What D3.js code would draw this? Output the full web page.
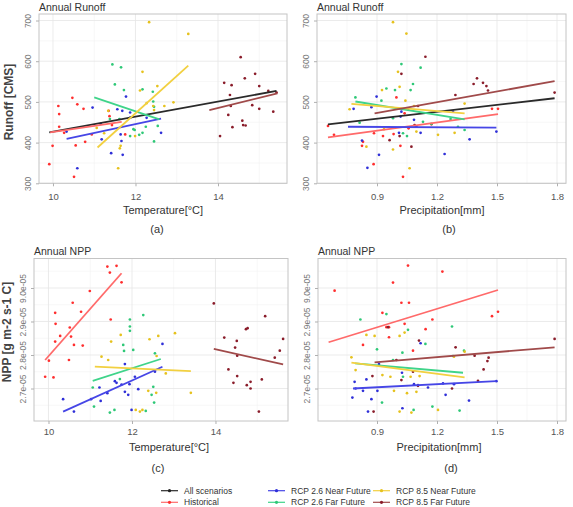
<!DOCTYPE html>
<html><head><meta charset="utf-8">
<script src="https://cdn.jsdelivr.net/npm/d3@7"></script>
<style>body{margin:0;background:#fff}svg{display:block}text{font-family:"Liberation Sans",Arial,sans-serif}</style>
</head><body><svg id="chart" width="573" height="507"></svg>
<script>
// ---------- categories ----------
const seriesNames = ["All scenarios","Historical","RCP 2.6 Near Future","RCP 2.6 Far Future","RCP 8.5 Near Future","RCP 8.5 Far Future"];
const pointColors = ["#222222","#ff2e2e","#2f2fd8","#2ec877","#e6c21e","#8a1c2a"];
const lineColors  = ["#2a2a2a","#ff6a6a","#4646e6","#3fd48a","#f2d040","#a04a4a"];

// ---------- tick labels ----------
const runoffTicks = [300,400,500,600,700];
const runoffMinor = [350,450,550,650];
const tempTicks = [10,12,14];
const tempMinor = [11,13,15];
const precipTicks = [0.9,1.2,1.5,1.8];
const precipTickLabels = ["0.9","1.2","1.5","1.8"];
const precipMinor = [0.75,1.05,1.35,1.65];
const nppTicks = [2.7,2.8,2.9,3.0];            // in 1e-5 g m-2 s-1 C
const nppTickLabels = ["2.7e-05","2.8e-05","2.9e-05","9.0e-05"];
const nppMinor = [2.65,2.75,2.85,2.95,3.05];

// ---------- panel (a): temperature [°C] vs runoff [CMS] ----------
const aHistorical = [[9.91,347],[9.99,392],[10.13,490],[10.15,470],[10.15,439],[10.27,424],[10.47,510],[10.51,316],[10.55,393],[10.59,494],[10.74,483],[10.78,402],[10.94,420],[11.35,478],[11.37,465],[11.43,443],[11.75,420]];
const aRcp26Near = [[10.33,427],[10.59,337],[10.96,486],[11.16,446],[11.18,408],[11.41,374],[11.56,482],[11.64,420],[11.66,404],[11.68,478],[11.69,370],[11.77,513],[11.87,474],[11.88,462],[12.27,461],[12.62,424]];
const aRcp26Far = [[11.44,592],[11.50,543],[11.65,585],[11.72,529],[11.61,458],[11.38,458],[11.87,416],[11.95,433],[11.98,431],[12.09,419],[12.17,424],[12.17,531],[12.25,439],[12.42,525],[12.43,501],[12.45,488],[12.45,403],[12.54,441]];
const aRcp85Near = [[12.33,696],[13.28,667],[12.17,574],[12.11,528],[12.53,539],[12.45,480],[12.43,490],[12.27,497],[12.70,490],[12.92,499],[11.34,478],[11.06,436],[11.58,337],[11.62,386],[11.64,392],[11.99,416],[11.24,423]];
const aRcp85Far = [[14.15,547],[14.05,416],[14.25,468],[14.29,517],[14.33,541],[14.35,438],[14.31,490],[14.55,610],[14.59,454],[14.61,443],[14.65,558],[14.67,442],[14.83,492],[14.90,569],[15.00,539],[15.00,483],[15.22,527],[15.34,476],[15.42,523]];
const aFits = [[9.91,425,15.42,527],[9.93,425,11.665,451],[10.33,409,12.62,459],[11.00,511,12.58,457],[11.08,388,13.28,589],[13.79,480,15.44,521]];

// ---------- panel (b): precipitation [mm] vs runoff [CMS] ----------
const bHistorical = [[0.655,441],[0.685,419],[0.825,392],[0.83,402],[0.883,347],[0.885,423],[0.997,511],[0.983,421],[1.017,392],[1.03,316],[1.058,435],[1.475,483],[1.505,483],[1.038,472],[0.93,416],[1.172,445]];
const bRcp26Near = [[0.783,483],[0.825,405],[0.852,338],[0.872,487],[0.898,513],[0.91,370],[1.022,476],[1.018,464],[1.085,456],[1.097,439],[1.118,424],[1.238,372],[1.28,476],[1.363,408],[1.497,427],[1.01,424]];
const bRcp26Far = [[0.792,511],[0.813,449],[0.922,503],[0.947,533],[0.98,460],[0.99,529],[1.022,593],[1.03,423],[1.05,416],[1.068,529],[1.08,544],[1.118,584],[1.13,451],[1.172,446],[1.268,458],[1.305,439],[1.338,431]];
const bRcp85Near = [[0.98,696],[1.047,668],[1.005,574],[1.013,537],[0.925,529],[0.763,482],[0.847,390],[0.98,383],[1.042,503],[1.063,337],[1.097,427],[1.085,490],[1.205,419],[1.288,424],[1.338,496],[0.935,433]];
const bRcp85Far = [[1.142,611],[1.022,569],[1.292,517],[1.383,544],[1.4,558],[1.43,547],[1.447,539],[1.455,528],[1.788,523],[1.055,482],[1.105,490],[1.013,416],[1.072,390],[0.963,406],[1.088,443]];
const bFits = [[0.655,445,1.788,509],[0.655,413,1.505,470],[0.755,439,1.497,437],[0.792,501,1.338,457],[0.772,495,1.338,472],[0.888,472,1.788,551]];

// ---------- panel (c): temperature [°C] vs NPP [1e-5 g m-2 s-1 C] ----------
const cHistorical = [[9.92,2.735],[10.01,2.783],[10.12,2.733],[10.16,2.926],[10.17,2.893],[10.16,2.840],[10.28,2.857],[10.49,2.785],[10.51,2.882],[10.54,2.855],[10.58,2.956],[10.61,2.830],[10.78,2.929],[10.82,2.828],[10.99,2.991],[11.41,3.064],[11.47,3.046],[11.63,3.066],[11.49,2.906],[11.75,3.017]];
const cRcp26Near = [[10.35,2.668],[10.61,2.631],[11.02,2.668],[11.22,2.703],[11.25,2.663],[11.41,2.686],[11.59,2.722],[11.63,2.717],[11.75,2.712],[11.83,2.690],[11.83,2.773],[11.94,2.713],[11.91,2.681],[12.07,2.735],[12.15,2.698],[12.73,2.833],[12.55,2.750],[11.99,2.636]];
const cRcp26Far = [[11.06,2.703],[11.09,2.646],[11.47,2.628],[11.58,2.636],[11.71,2.728],[11.79,2.830],[11.81,2.812],[11.95,2.906],[11.95,2.885],[11.95,2.872],[12.03,2.815],[12.27,2.919],[12.33,2.633],[12.51,2.705],[12.53,2.658],[12.55,2.805],[12.47,2.681]];
const cRcp85Near = [[11.27,2.795],[11.43,2.785],[11.73,2.860],[12.09,2.636],[12.25,2.636],[12.39,2.693],[12.42,2.847],[12.58,2.687],[12.59,2.797],[12.63,2.857],[12.81,2.745],[13.03,2.865],[13.41,2.687],[11.50,2.840],[12.19,2.631]];
const cRcp85Far = [[13.96,2.954],[14.21,2.852],[14.31,2.757],[14.43,2.717],[14.47,2.822],[14.51,2.842],[14.52,2.798],[14.52,2.737],[14.73,2.877],[14.77,2.880],[14.75,2.710],[14.84,2.700],[14.84,2.720],[15.04,2.631],[15.11,2.727],[15.19,2.916],[15.42,2.792],[15.54,2.813],[15.62,2.848]];
const cFits = [null,[9.92,2.785,11.75,3.044],[10.35,2.631,12.73,2.765],[11.06,2.723,12.69,2.788],[11.11,2.765,13.41,2.752],[13.96,2.818,15.62,2.772]];

// ---------- panel (d): precipitation [mm] vs NPP [1e-5 g m-2 s-1 C] ----------
const dHistorical = [[0.688,2.992],[0.98,3.016],[1.055,3.067],[1.227,3.049],[1.022,2.956],[1.06,2.956],[0.927,2.926],[0.96,2.883],[0.947,2.883],[1.038,2.893],[0.83,2.830],[1.177,2.906],[1.143,2.877],[0.96,2.853],[1.475,2.916],[1.505,2.929],[1.08,2.813]];
const dRcp26Near = [[0.788,2.720],[0.793,2.700],[0.777,2.673],[0.83,2.693],[0.847,2.727],[0.872,2.668],[0.902,2.693],[0.855,2.631],[0.91,2.773],[1.025,2.747],[1.027,2.641],[1.085,2.713],[1.118,2.835],[1.155,2.703],[1.23,2.715],[1.243,2.681],[1.285,2.713],[1.36,2.664],[1.497,2.722],[1.105,2.710]];
const dRcp26Far = [[0.817,2.906],[0.947,2.922],[0.9,2.817],[0.98,2.785],[1.027,2.807],[1.055,2.875],[1.142,2.833],[1.03,2.735],[0.925,2.658],[1.083,2.636],[1.177,2.646],[1.275,2.885],[1.28,2.797],[1.335,2.813],[1.313,2.634]];
const dRcp85Near = [[0.772,2.793],[0.793,2.755],[0.847,2.860],[0.888,2.857],[0.927,2.740],[0.967,2.735],[0.985,2.693],[1.013,2.857],[1.038,2.867],[1.05,2.686],[1.013,2.631],[1.068,2.735],[1.097,2.690],[1.113,2.737],[1.205,2.636],[1.285,2.795],[1.338,2.810],[1.072,2.628]];
const dRcp85Far = [[0.877,2.737],[0.997,2.785],[1.11,2.843],[1.08,2.750],[1.022,2.725],[1.105,2.708],[1.293,2.823],[1.388,2.798],[1.405,2.723],[1.433,2.757],[1.452,2.782],[1.458,2.792],[1.788,2.848],[1.275,2.700],[0.883,2.631],[0.955,2.883]];
const dFits = [null,[0.658,2.838,1.505,2.994],[0.78,2.700,1.497,2.722],[0.79,2.775,1.33,2.747],[0.772,2.777,1.338,2.733],[0.888,2.778,1.788,2.823]];

// ---------- drawing ----------
const svg = d3.select("#chart");

const panels = [
  {title:"Annual Runoff", tag:"(a)", xTitle:"Temperature[°C]", box:[39,14,287,183.3],
   xDom:[9.661,15.673], yDom:[300,716], xTicks:tempTicks, xLabels:tempTicks.map(String), xMinor:tempMinor,
   yTicks:runoffTicks, yLabels:runoffTicks.map(String), yMinor:runoffMinor,
   pts:[null,aHistorical,aRcp26Near,aRcp26Far,aRcp85Near,aRcp85Far], fits:aFits,
   xTitleX:163, xTitleY:214, tagX:157, tagY:233, tickY:200.5},
  {title:"Annual Runoff", tag:"(b)", xTitle:"Precipitation[mm]", box:[317,14,566,183.3],
   xDom:[0.6,1.845], yDom:[300,716], xTicks:precipTicks, xLabels:precipTickLabels, xMinor:precipMinor,
   yTicks:runoffTicks, yLabels:runoffTicks.map(String), yMinor:runoffMinor,
   pts:[null,bHistorical,bRcp26Near,bRcp26Far,bRcp85Near,bRcp85Far], fits:bFits,
   xTitleX:442, xTitleY:214, tagX:449, tagY:233, tickY:200.5},
  {title:"Annual NPP", tag:"(c)", xTitle:"Temperature[°C]", box:[34,258.5,288,421],
   xDom:[9.653,15.737], yDom:[2.603,3.088], xTicks:tempTicks, xLabels:tempTicks.map(String), xMinor:tempMinor,
   yTicks:nppTicks, yLabels:nppTickLabels, yMinor:nppMinor,
   pts:[null,cHistorical,cRcp26Near,cRcp26Far,cRcp85Near,cRcp85Far], fits:cFits,
   xTitleX:169, xTitleY:451, tagX:158, tagY:471.5, tickY:435},
  {title:"Annual NPP", tag:"(d)", xTitle:"Precipitation[mm]", box:[318,258.5,566,421],
   xDom:[0.605,1.845], yDom:[2.603,3.088], xTicks:precipTicks, xLabels:precipTickLabels, xMinor:precipMinor,
   yTicks:nppTicks, yLabels:nppTickLabels, yMinor:nppMinor,
   pts:[null,dHistorical,dRcp26Near,dRcp26Far,dRcp85Near,dRcp85Far], fits:dFits,
   xTitleX:439, xTitleY:451, tagX:451, tagY:471.5, tickY:435}
];

panels.forEach(p => {
  const [l,t,r,b] = p.box;
  const x = d3.scaleLinear().domain(p.xDom).range([l,r]);
  const y = d3.scaleLinear().domain(p.yDom).range([b,t]);
  const g = svg.append("g");
  // minor grid
  g.selectAll(".mx").data(p.xMinor.filter(v=>v>p.xDom[0]&&v<p.xDom[1])).join("line")
    .attr("x1",d=>x(d)).attr("x2",d=>x(d)).attr("y1",t).attr("y2",b).attr("stroke","#f2f2f2").attr("stroke-width",0.6);
  g.selectAll(".my").data(p.yMinor.filter(v=>v>p.yDom[0]&&v<p.yDom[1])).join("line")
    .attr("y1",d=>y(d)).attr("y2",d=>y(d)).attr("x1",l).attr("x2",r).attr("stroke","#f2f2f2").attr("stroke-width",0.6);
  // major grid
  g.selectAll(".Mx").data(p.xTicks).join("line")
    .attr("x1",d=>x(d)).attr("x2",d=>x(d)).attr("y1",t).attr("y2",b).attr("stroke","#e6e6e6").attr("stroke-width",0.8);
  g.selectAll(".My").data(p.yTicks).join("line")
    .attr("y1",d=>y(d)).attr("y2",d=>y(d)).attr("x1",l).attr("x2",r).attr("stroke","#e6e6e6").attr("stroke-width",0.8);
  // points
  p.pts.forEach((arr,i) => {
    if (!arr) return;
    g.append("g").selectAll("circle").data(arr).join("circle")
      .attr("cx",d=>x(d[0])).attr("cy",d=>y(d[1])).attr("r",1.35).attr("fill",pointColors[i]);
  });
  // fit lines
  p.fits.forEach((f,i) => {
    if (!f) return;
    g.append("line").attr("x1",x(f[0])).attr("y1",y(f[1])).attr("x2",x(f[2])).attr("y2",y(f[3]))
      .attr("stroke",lineColors[i]).attr("stroke-width",1.8);
  });
  // frame
  g.append("rect").attr("x",l).attr("y",t).attr("width",r-l).attr("height",b-t)
    .attr("fill","none").attr("stroke","#c4c4c4").attr("stroke-width",1);
  // x axis
  const xa = g.append("g").attr("transform",`translate(0,${b})`)
    .call(d3.axisBottom(x).tickValues(p.xTicks).tickFormat((d,i)=>p.xLabels[i]).tickSize(3).tickSizeOuter(0));
  xa.select(".domain").remove();
  xa.selectAll("line").attr("stroke","#b0b0b0");
  xa.selectAll("text").attr("y",p.tickY-b).attr("dy",0).attr("fill","#555").attr("font-size","9.5px");
  // y axis
  const ya = g.append("g").attr("transform",`translate(${l},0)`)
    .call(d3.axisLeft(y).tickValues(p.yTicks).tickFormat((d,i)=>p.yLabels[i]).tickSize(3).tickSizeOuter(0));
  ya.select(".domain").remove();
  ya.selectAll("line").attr("stroke","#b0b0b0");
  ya.selectAll("text").attr("transform","rotate(-90)").attr("x",0).attr("y",-8).attr("dy",0)
    .attr("text-anchor","middle").attr("fill","#777").attr("font-size","8.5px");
  // titles
  svg.append("text").attr("x",l).attr("y",t-3.5).attr("font-size","10.5px").attr("fill","#333").text(p.title);
  svg.append("text").attr("x",p.xTitleX).attr("y",p.xTitleY).attr("text-anchor","middle")
    .attr("font-size","11px").attr("fill","#333").text(p.xTitle);
  svg.append("text").attr("x",p.tagX).attr("y",p.tagY).attr("text-anchor","middle")
    .attr("font-size","11px").attr("fill","#333").text(p.tag);
});

// y-axis titles
svg.append("text").attr("transform","translate(8.5,102) rotate(-90)").attr("text-anchor","middle").attr("dy","0.35em")
  .attr("font-size","12px").attr("font-weight","bold").attr("fill","#444").text("Runoff [CMS]");
svg.append("text").attr("transform","translate(7,332) rotate(-90)").attr("text-anchor","middle").attr("dy","0.35em")
  .attr("font-size","12px").attr("font-weight","bold").attr("fill","#444").text("NPP [g m-2 s-1 C]");

// legend
const legendPos = [[161,490.7],[161,502.3],[268,490.7],[268,502.3],[373,490.7],[373,502.3]];
const lg = svg.append("g").selectAll("g").data(seriesNames).join("g")
  .attr("transform",(d,i)=>`translate(${legendPos[i][0]},${legendPos[i][1]})`);
lg.append("line").attr("x1",0).attr("x2",17).attr("stroke",(d,i)=>lineColors[i]).attr("stroke-width",1.2);
lg.append("circle").attr("cx",8.5).attr("r",1.6).attr("fill",(d,i)=>pointColors[i]);
lg.append("text").attr("x",23).attr("dy","0.33em").attr("font-size","8.5px").attr("fill","#333").text(d=>d);
</script></body></html>
